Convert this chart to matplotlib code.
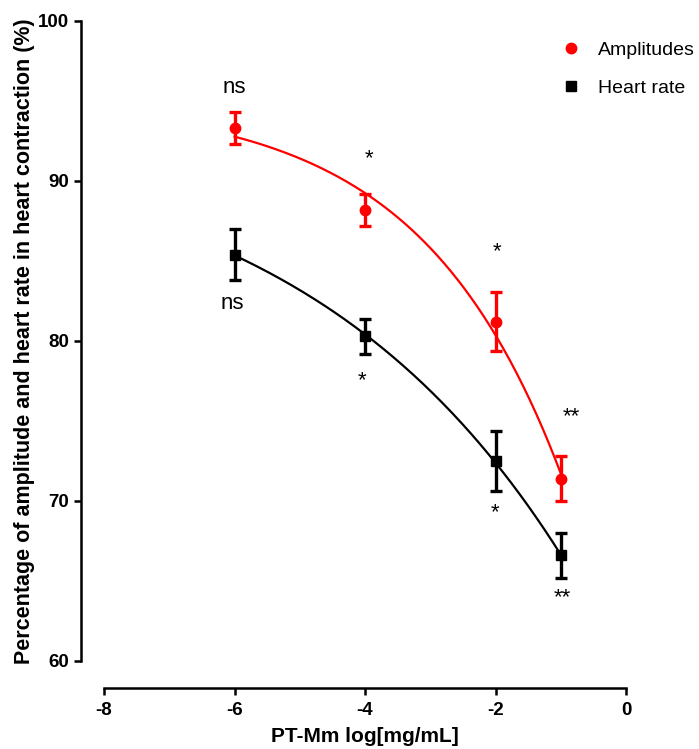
import matplotlib
matplotlib.use('Agg')
import matplotlib.pyplot as plt
from matplotlib.lines import Line2D
import numpy as np

plt.rcParams['font.family'] = ['Liberation Sans', 'DejaVu Sans']
plt.rcParams['axes.unicode_minus'] = False

# data
log_conc = np.array([-6, -4, -2, -1])
amp_mean = np.array([93.3, 88.2, 81.2, 71.4])
amp_err = np.array([1.0, 1.0, 1.85, 1.4])
hr_mean = np.array([85.4, 80.3, 72.5, 66.6])
hr_err = np.array([1.6, 1.1, 1.85, 1.4])
amp_marks = ['ns', '*', '*', '**']
hr_marks = ['ns', '*', '*', '**']


def exp_fit(x, y):
    # y = a + b*exp(k*x), k picked by grid search, a/b by least squares
    best = None
    for k in np.linspace(0.02, 2.0, 400):
        A = np.column_stack([np.ones_like(x, dtype=float), np.exp(k * x)])
        coef, res, _, _ = np.linalg.lstsq(A, y, rcond=None)
        err = np.sum((A @ coef - y) ** 2)
        if best is None or err < best[0]:
            best = (err, k, coef)
    _, k, coef = best
    return lambda t: coef[0] + coef[1] * np.exp(k * t)


fig = plt.figure(figsize=(6.99, 7.49), dpi=100)
ax = fig.add_axes([0.1488, 0.1175, 0.7468, 0.8545])

xs = np.linspace(log_conc.min(), log_conc.max(), 200)
f_amp = exp_fit(log_conc, amp_mean)
f_hr = exp_fit(log_conc, hr_mean)
ax.plot(xs, f_amp(xs), color='#ff0000', lw=1.6)
ax.plot(xs, f_hr(xs), color='black', lw=1.6)

ax.errorbar(log_conc, amp_mean, yerr=amp_err, fmt='o', color='#ff0000',
            ms=7.5, elinewidth=2.4, capsize=4.5, capthick=2.4)
ax.errorbar(log_conc, hr_mean, yerr=hr_err, fmt='s', color='black',
            ms=7.5, elinewidth=2.4, capsize=4.5, capthick=2.4)

# significance labels (positions tuned by eye)
amp_pos = [(-6.0, 95.5), (-3.94, 91.05), (-1.98, 85.25), (-0.84, 74.95)]
hr_pos = [(-6.04, 82.0), (-4.05, 77.2), (-2.01, 68.9), (-0.97, 63.6)]
for lab, (tx, ty) in zip(amp_marks + hr_marks, amp_pos + hr_pos):
    ax.text(tx, ty, lab, ha='center', va='baseline', fontsize=16)

ax.set_xlim(-8, 0)
ax.set_ylim(60, 100)
ax.set_xticks([-8, -6, -4, -2, 0])
ax.set_yticks([60, 70, 80, 90, 100])
for s in ['top', 'right']:
    ax.spines[s].set_visible(False)
ax.spines['left'].set_position(('outward', 16.5))
ax.spines['bottom'].set_position(('outward', 19.4))
for s in ['left', 'bottom']:
    ax.spines[s].set_linewidth(1.8)
ax.tick_params(width=1.8, length=5, labelsize=13.5)
ax.tick_params(axis='x', pad=5)
for t in ax.get_xticklabels() + ax.get_yticklabels():
    t.set_fontweight('bold')

ax.set_xlabel('PT-Mm log[mg/mL]', fontsize=15, fontweight='bold', labelpad=6)
ax.set_ylabel('Percentage of amplitude and heart rate in heart contraction (%)',
              fontsize=15.5, fontweight='bold', labelpad=2)

handles = [Line2D([], [], ls='none', marker='o', color='#ff0000', ms=7.5),
           Line2D([], [], ls='none', marker='s', color='black', ms=7)]
fig.legend(handles, ['Amplitudes', 'Heart rate'], loc='upper left',
           bbox_to_anchor=(0.778, 0.968), frameon=False, fontsize=14,
           handlelength=1.0, handletextpad=0.9, labelspacing=1.05)

fig.savefig('out.png', dpi=100)
